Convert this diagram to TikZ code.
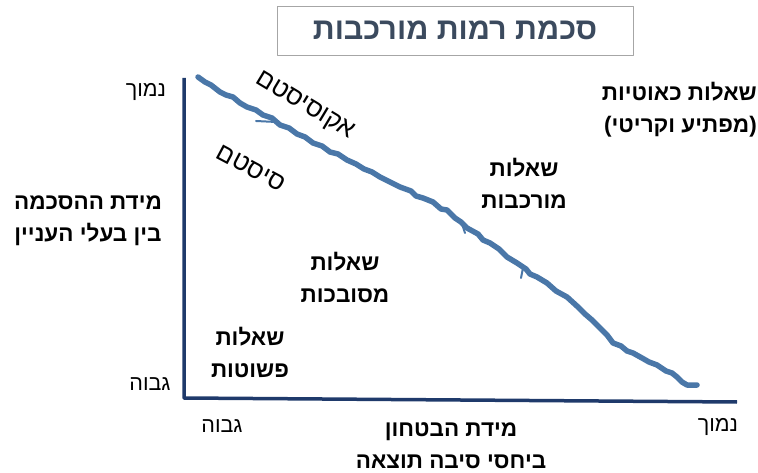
\documentclass[tikz,border=0pt]{standalone}
\usepackage{fontspec}
\usepackage{xcolor}
\usetikzlibrary{positioning}
\TeXXeTstate=1
\newfontfamily\hebfont[Script=Hebrew, BoldFont={Liberation Sans Bold}]{Liberation Sans}
\newcommand{\rtl}[1]{\beginR #1\endR}
\definecolor{axisblue}{HTML}{1F3A6B}
\definecolor{lineblue}{HTML}{4A77A8}
\definecolor{titlegray}{HTML}{3B4A5E}

\begin{document}
\begin{tikzpicture}[x=1pt, y=-1pt, line join=round, line cap=round,
    every node/.style={font=\hebfont, inner sep=0pt},
    zone/.style={align=center, font=\hebfont\fontsize{22.5}{32}\selectfont\bfseries},
    tick/.style={font=\hebfont\fontsize{21.5}{24}\selectfont},
    layer/.style={font=\hebfont\fontsize{25.5}{28}\selectfont}]
    \useasboundingbox (0,0) rectangle (758,473);
    % title
    \node[draw=gray!70, line width=0.8pt, minimum width=356pt, minimum height=49pt,
        text=titlegray, font=\hebfont\fontsize{30.5}{36}\selectfont\bfseries]
        (title) at (455,30.5) {\rtl{סכמת רמות מורכבות}};
    % axes
    \coordinate (ytop) at (184,78);
    \coordinate (origin) at (184,398);
    \coordinate (xend) at (737,402);
    \draw[axisblue, line width=3.5pt, line cap=butt] (ytop) -- (origin) -- (xend);
    % border between system and ecosystem
    \draw[lineblue, line width=5.5pt]
        (198,77) -- (205,82) -- (211,85) -- (220,92) -- (226,95) -- (233,97) -- (240,103)
        -- (247,107) -- (256,110) -- (263,115) -- (272,118) -- (280,125) -- (289,128)
        -- (297,134) -- (305,137) -- (313,143) -- (322,146) -- (330,152) -- (338,154)
        -- (347,160) -- (356,164) -- (364,169) -- (372,172) -- (380,177) -- (390,182)
        -- (400,187) -- (411,191) -- (416,196) -- (423,198) -- (433,202) -- (441,209)
        -- (447,210) -- (455,218) -- (461,222) -- (467,228) -- (478,234) -- (483,240)
        -- (490,243) -- (499,249) -- (507,257) -- (517,263) -- (526,269) -- (530,274)
        -- (537,277) -- (547,283) -- (556,291) -- (567,297) -- (578,307) -- (585,314)
        -- (592,320) -- (601,329) -- (607,335) -- (613,343) -- (621,346) -- (627,351)
        -- (633,353) -- (642,358) -- (649,362) -- (657,365) -- (666,371) -- (672,373)
        -- (677,377) -- (682,382) -- (687,385) -- (697,385);
    \draw[lineblue, line width=2pt] (256,121) -- (276,122);
    \draw[lineblue, line width=2pt] (462,224) -- (465,233);
    \draw[lineblue, line width=2pt] (523,268) -- (521,278);
    % layer names
    \node[layer, rotate=-31] (eco) at (305,106) {\rtl{אקוסיסטם}};
    \node[layer, rotate=-28] (sys) at (251,168) {\rtl{סיסטם}};
    % kinds of questions
    \node[zone] (simple) at (250,352) {\rtl{שאלות}\\\rtl{פשוטות}};
    \node[zone] (complicated) at (345,277) {\rtl{שאלות}\\\rtl{מסובכות}};
    \node[zone] (complex) at (524,183) {\rtl{שאלות}\\\rtl{מורכבות}};
    \node[zone, align=right, anchor=east] (chaotic) at (757,110)
        {\rtl{שאלות כאוטיות}\\\rtl{(מפתיע וקריטי)}};
    % axis names
    \node[zone] (agree) at (88,221) {\rtl{מידת ההסכמה}\\\rtl{בין בעלי העניין}};
    \node[zone] (certain) at (451,446) {\rtl{מידת הבטחון}\\\rtl{ביחסי סיבה תוצאה}};
    % tick labels
    \node[tick] (ylow) at (146,92) {\rtl{נמוך}};
    \node[tick] (yhigh) at (150,384) {\rtl{גבוה}};
    \node[tick] (xhigh) at (222,426) {\rtl{גבוה}};
    \node[tick] (xlow) at (718,427) {\rtl{נמוך}};
\end{tikzpicture}
\end{document}
